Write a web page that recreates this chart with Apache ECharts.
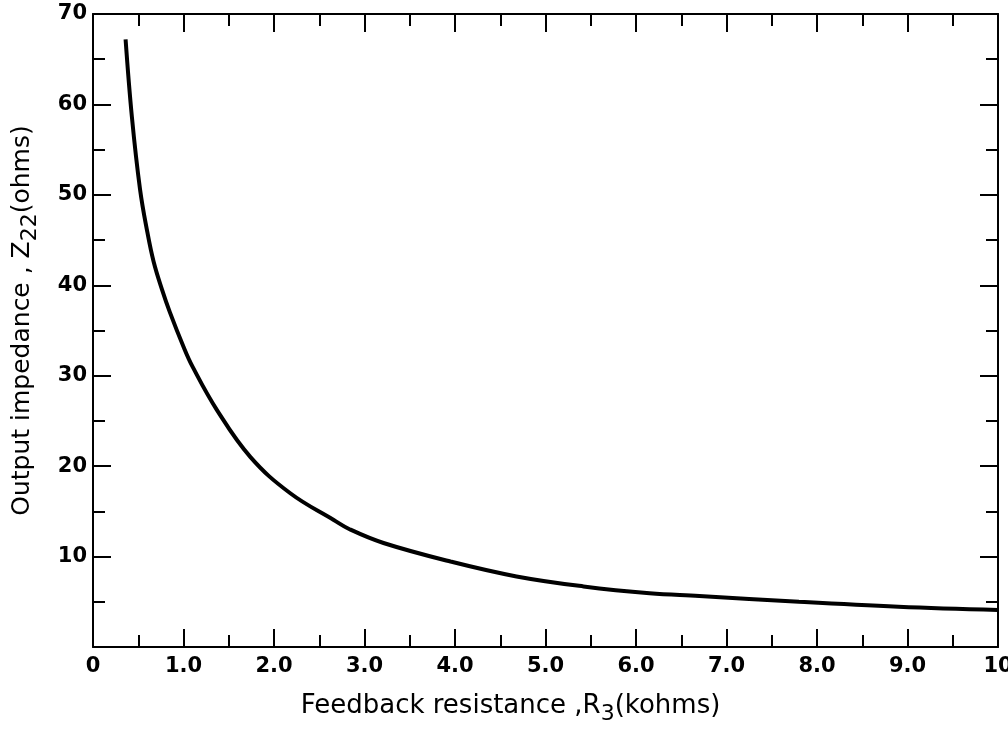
<!DOCTYPE html>
<html>
<head>
    <meta charset="utf-8">
    <title>Output impedance</title>
    <script src="https://cdn.jsdelivr.net/npm/echarts@6/dist/echarts.min.js"></script>
</head>
<body style="margin:0;background:#fff">
<div id="main" style="width:1008px;height:741px;"></div>

<script type="text/javascript">
    // values
    var feedbackR = [0.36, 0.43, 0.52, 0.6, 0.67, 0.76, 0.85, 1.0, 1.1, 1.37, 1.74, 2.18, 2.66, 2.84, 3.21, 3.95, 4.68, 5.42, 6.15, 6.7, 7.8, 8.9, 10.0];
    var impedance = [67.2, 58.6, 50.6, 45.9, 42.6, 39.6, 37.0, 33.2, 31.0, 26.2, 21.0, 17.0, 14.05, 13.0, 11.5, 9.45, 7.8, 6.7, 5.95, 5.65, 5.0, 4.46, 4.1];
    var xTickLabels = ['0', '1.0', '2.0', '3.0', '4.0', '5.0', '6.0', '7.0', '8.0', '9.0', '10'];
    var yTickLabels = ['', '10', '20', '30', '40', '50', '60', '70'];

    var pts = [];
    for (var i = 0; i < feedbackR.length; i++) {
        pts.push([feedbackR[i], impedance[i]]);
    }

    var font = 'DejaVu Sans';
    var lineStyle = { color: '#000', width: 2 };

    function boxAxis(extra) {
        var a = {
            type: 'value',
            axisLine: { show: true, onZero: false, lineStyle: lineStyle },
            axisTick: { show: true, inside: true, length: 18, lineStyle: lineStyle },
            minorTick: { show: true, splitNumber: 2, length: 12, lineStyle: lineStyle },
            splitLine: { show: false },
            minorSplitLine: { show: false }
        };
        for (var k in extra) a[k] = extra[k];
        return a;
    }

    var myChart = echarts.init(document.getElementById('main'));
    var option = {
        backgroundColor: '#fff',
        animation: false,
        grid: { left: 93, right: 10, top: 14, bottom: 94, outerBoundsMode: 'none' },
        xAxis: [
            boxAxis({
                min: 0, max: 10, interval: 1, position: 'bottom',
                axisLabel: {
                    color: '#000', fontFamily: font, fontSize: 21, fontWeight: 'bold', margin: 9,
                    formatter: function (v) { return xTickLabels[Math.round(v)]; }
                },
                name: '{a|Feedback resistance ,R}{s|3}{a|(kohms)}',
                nameLocation: 'middle',
                nameGap: 40,
                nameTextStyle: {
                    fontFamily: font,
                    padding: [0, 70, 0, 0],
                    rich: {
                        a: { fontFamily: font, fontSize: 26, color: '#000', lineHeight: 30 },
                        s: { fontFamily: font, fontSize: 22, color: '#000', padding: [16, 0, 0, 0] }
                    }
                }
            }),
            boxAxis({
                min: 0, max: 10, interval: 1, position: 'top',
                axisLabel: { show: false }
            })
        ],
        yAxis: [
            boxAxis({
                min: 0, max: 70, interval: 10, position: 'left',
                axisLabel: {
                    color: '#000', fontFamily: font, fontSize: 21, fontWeight: 'bold', margin: 6,
                    formatter: function (v) { return yTickLabels[Math.round(v / 10)]; }
                },
                name: '{a|Output impedance , Z}{s|22}{a|(ohms)}',
                nameLocation: 'middle',
                nameGap: 52,
                nameTextStyle: {
                    fontFamily: font,
                    padding: [0, 0, 0, 20],
                    rich: {
                        a: { fontFamily: font, fontSize: 25, color: '#000', lineHeight: 30 },
                        s: { fontFamily: font, fontSize: 22, color: '#000', padding: [16, 0, 0, 0] }
                    }
                }
            }),
            boxAxis({
                min: 0, max: 70, interval: 10, position: 'right',
                axisLabel: { show: false }
            })
        ],
        series: [
            {
                type: 'line',
                data: pts,
                smooth: 0.4,
                symbol: 'none',
                lineStyle: { color: '#000', width: 4 }
            }
        ]
    };
    myChart.setOption(option);
</script>
</body>
</html>
